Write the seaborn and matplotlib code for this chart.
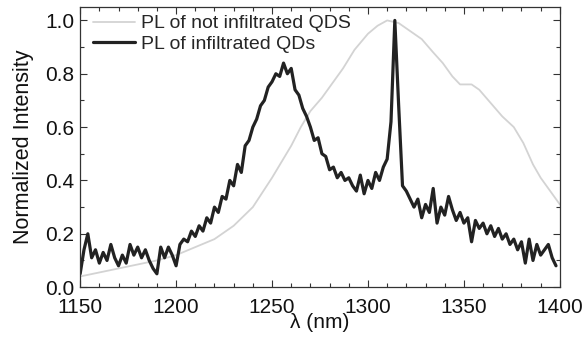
import numpy as np
import pandas as pd
import seaborn as sns
import matplotlib.pyplot as plt
from matplotlib.ticker import MultipleLocator

# PL of not infiltrated QDs (smooth, light grey)
ref_nm = [1150, 1160, 1170, 1180, 1190, 1200, 1210, 1220, 1230, 1240,
          1250, 1255, 1260, 1265, 1270, 1276, 1280, 1287, 1293, 1300,
          1305, 1310, 1316, 1322, 1328, 1334, 1339, 1344, 1348, 1354,
          1358, 1364, 1370, 1376, 1381, 1386, 1390, 1395, 1398, 1400]
ref_int = [0.04, 0.055, 0.07, 0.085, 0.10, 0.12, 0.15, 0.18, 0.23, 0.30,
           0.41, 0.47, 0.53, 0.60, 0.66, 0.71, 0.75, 0.82, 0.89, 0.95,
           0.98, 1.00, 0.99, 0.96, 0.93, 0.88, 0.84, 0.79, 0.76, 0.76,
           0.74, 0.69, 0.64, 0.60, 0.54, 0.46, 0.41, 0.36, 0.33, 0.31]

# PL of infiltrated QDs (noisy, black), 2 nm steps from 1150 nm
inf_start = 1150
inf_step = 2
inf_int = [0.05, 0.14, 0.20, 0.11, 0.14, 0.09, 0.13, 0.10, 0.16, 0.11,
           0.08, 0.12, 0.09, 0.16, 0.12, 0.15, 0.11, 0.14, 0.10, 0.07,
           0.05, 0.15, 0.11, 0.15, 0.12, 0.08, 0.16, 0.18, 0.17, 0.21,
           0.19, 0.23, 0.21, 0.26, 0.24, 0.30, 0.28, 0.34, 0.33, 0.40,
           0.38, 0.46, 0.43, 0.53, 0.55, 0.60, 0.63, 0.68, 0.70, 0.75,
           0.77, 0.80, 0.79, 0.84, 0.80, 0.82, 0.74, 0.72, 0.67, 0.64,
           0.60, 0.55, 0.56, 0.50, 0.49, 0.44, 0.45, 0.41, 0.43, 0.40,
           0.41, 0.38, 0.36, 0.42, 0.35, 0.40, 0.37, 0.43, 0.40, 0.45,
           0.48, 0.62, 1.00, 0.68, 0.38, 0.36, 0.33, 0.30, 0.33, 0.26,
           0.31, 0.28, 0.37, 0.24, 0.30, 0.27, 0.34, 0.29, 0.25, 0.28,
           0.24, 0.26, 0.17, 0.25, 0.22, 0.24, 0.20, 0.23, 0.19, 0.22,
           0.18, 0.20, 0.16, 0.18, 0.14, 0.17, 0.09, 0.18, 0.10, 0.16,
           0.12, 0.14, 0.16, 0.11, 0.08]
inf_nm = [inf_start + inf_step * i for i in range(len(inf_int))]

labels = ["PL of not infiltrated QDS", "PL of infiltrated QDs"]
x_ticks = [1150, 1200, 1250, 1300, 1350, 1400]
y_ticks = [0.0, 0.2, 0.4, 0.6, 0.8, 1.0]

sns.set_theme(style="ticks")
plt.rcParams['font.family'] = ['Liberation Sans', 'DejaVu Sans']

fig = plt.figure(figsize=(5.85, 3.37), dpi=100)
ax = fig.add_axes([0.137, 0.148, 0.820, 0.831])

ref_df = pd.DataFrame({'nm': ref_nm, 'intensity': ref_int})
inf_df = pd.DataFrame({'nm': inf_nm, 'intensity': inf_int})

sns.lineplot(data=ref_df, x='nm', y='intensity', ax=ax, color='#d3d3d3',
             linewidth=1.3, label=labels[0])
sns.lineplot(data=inf_df, x='nm', y='intensity', ax=ax, color='#222222',
             linewidth=2.3, label=labels[1])

ax.set_xlim(1150, 1400)
ax.set_ylim(0, 1.05)
ax.set_xticks(x_ticks)
ax.set_yticks(y_ticks)
ax.set_yticklabels([f"{v:.1f}" for v in y_ticks])
ax.xaxis.set_minor_locator(MultipleLocator(10))
ax.yaxis.set_minor_locator(MultipleLocator(0.1))
ax.tick_params(which='both', direction='in', top=True, right=True,
               color='#333333', width=0.8, labelsize=15, labelcolor='#111111')
ax.tick_params(which='major', length=5)
ax.tick_params(which='minor', length=3)
ax.tick_params(axis='x', pad=8)
ax.tick_params(axis='y', pad=4)
for s in ax.spines.values():
    s.set_color('#333333')
    s.set_linewidth(0.9)

ax.set_xlabel("λ (nm)", fontsize=15, labelpad=-3, color='#111111')
ax.set_ylabel("Normalized Intensity", fontsize=15.5, labelpad=8, color='#111111')

ax.legend(loc='upper left', frameon=False, fontsize=14, handlelength=2.2,
          handletextpad=0.3, labelspacing=0.15, borderaxespad=0.0,
          bbox_to_anchor=(0.01, 1.0))

fig.savefig("out.png", dpi=100)
